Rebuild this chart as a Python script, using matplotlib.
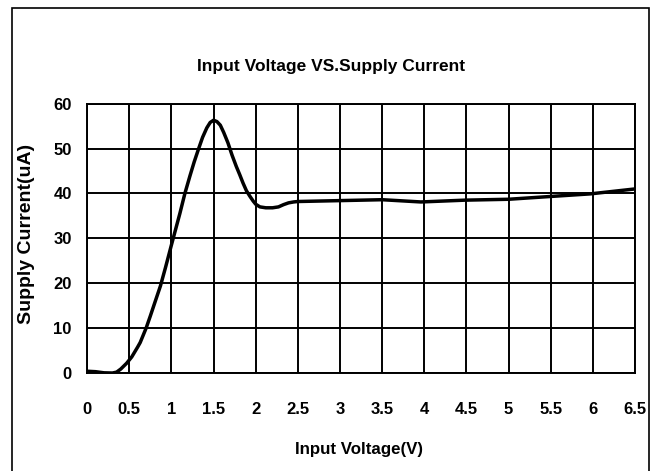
# Input Voltage vs Supply Current chart

import matplotlib.pyplot as plt
from matplotlib.patches import Rectangle

plt.rcParams['font.family'] = ['Liberation Sans', 'DejaVu Sans']
plt.rcParams['font.weight'] = 'bold'

# Values.
voltage = [0.0, 0.1, 0.2, 0.3, 0.35, 0.4, 0.47, 0.53, 0.6, 0.63, 0.7, 0.75, 0.8,
           0.87, 0.93, 1.0, 1.05, 1.1, 1.16, 1.22, 1.27, 1.32, 1.37, 1.42, 1.46,
           1.5, 1.54, 1.58, 1.62, 1.67, 1.72, 1.77, 1.81, 1.85, 1.89, 1.93, 1.97,
           2.0, 2.05, 2.12, 2.2, 2.27, 2.33, 2.39, 2.45, 2.5,
           3.0, 3.5, 3.96, 4.48, 5.0, 5.48, 5.97, 6.5]
current = [0.4, 0.3, 0.05, 0.0, 0.2, 0.9, 2.2, 3.6, 5.8, 6.8, 10.0, 12.7, 15.5,
           19.4, 23.5, 28.5, 32.0, 35.5, 40.0, 43.9, 47.0, 49.8, 52.5, 54.6, 55.8,
           56.3, 56.0, 55.2, 53.6, 51.3, 48.5, 46.0, 44.2, 42.3, 40.6, 39.4, 38.3,
           37.6, 37.0, 36.8, 36.8, 37.0, 37.5, 37.9, 38.1, 38.2,
           38.4, 38.6, 38.1, 38.5, 38.7, 39.3, 39.9, 41.0]

x_ticks = [0, 0.5, 1, 1.5, 2, 2.5, 3, 3.5, 4, 4.5, 5, 5.5, 6, 6.5]
x_tick_labels = ['0', '0.5', '1', '1.5', '2', '2.5', '3', '3.5', '4', '4.5', '5', '5.5', '6', '6.5']
y_ticks = [0, 10, 20, 30, 40, 50, 60]

fig = plt.figure(figsize=(6.5, 4.71), dpi=100)
ax = fig.add_axes([0.134, 0.208, 0.843, 0.572])

ax.plot(voltage, current, color='black', linewidth=2.5,
        solid_capstyle='round', solid_joinstyle='round')

ax.set_xlim(0, 6.5)
ax.set_ylim(0, 60)
ax.set_xticks(x_ticks)
ax.set_xticklabels(x_tick_labels)
ax.set_yticks(y_ticks)
ax.tick_params(length=0, labelsize=12)
ax.tick_params(axis='x', pad=21)
ax.tick_params(axis='y', pad=11)
ax.grid(True, color='black', linewidth=1.4)
ax.set_axisbelow(True)
for s in ax.spines.values():
    s.set_linewidth(1.4)

# Title and axis labels placed like the reference.
fig.text(0.509, 0.859, 'Input Voltage VS.Supply Current', ha='center', va='center', fontsize=12.5, fontweight='bold')
fig.text(0.552, 0.045, 'Input Voltage(V)', ha='center', va='center', fontsize=12.2, fontweight='bold')
fig.text(0.0415, 0.504, 'Supply Current(uA)', ha='center', va='center', rotation=90, fontsize=14, fontweight='bold')

# Outer frame round the chart.
fig.patches.append(Rectangle((0.0177, -0.01), 0.9808, 0.993, transform=fig.transFigure,
                             fill=False, edgecolor='black', linewidth=1.2))

plt.savefig('out.png')
